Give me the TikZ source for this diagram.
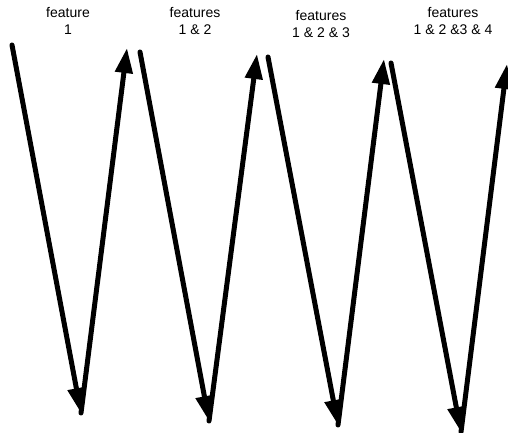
\documentclass[tikz,border=0pt]{standalone}
\usepackage{fontspec}
\setmainfont{Liberation Sans}
\usetikzlibrary{arrows.meta}

\begin{document}
\begin{tikzpicture}
      [x=1pt,y=-1pt,line cap=round,line join=round,
     %thick black strokes of the zigzag
     zig/.style={-{Triangle[length=25pt,width=17pt]},line width=5pt,color=black},
     %two-line captions above the peaks
     caption/.style={align=center,inner sep=0pt,font=\fontsize{14}{17}\selectfont}]

  \useasboundingbox (0,0) rectangle (508,432);

%start points of the downward strokes
  \coordinate (s1) at (12,45);
  \coordinate (s2) at (140,52);
  \coordinate (s3) at (268,57);
  \coordinate (s4) at (391,63);
%bottom turning points
  \coordinate (b1) at (81,413);
  \coordinate (b2) at (209,421);
  \coordinate (b3) at (338,425);
  \coordinate (b4) at (461,432);
%tips of the upward strokes
  \coordinate (u1) at (127,48);
  \coordinate (u2) at (257,54);
  \coordinate (u3) at (384,59);
  \coordinate (u4) at (507,64);

%captions
  \node[caption] (f1) at (68,21) {feature\\1};
  \node[caption] (f12) at (195,21) {features\\1 \& 2};
  \node[caption] (f123) at (321,24) {features\\1 \& 2 \& 3};
  \node[caption] (f1234) at (453,21) {features\\1 \& 2 \&3 \& 4};

%down and up again
  \draw[zig] (s1) -- (b1);
  \draw[zig] (b1) -- (u1);
  \draw[zig] (s2) -- (b2);
  \draw[zig] (b2) -- (u2);
  \draw[zig] (s3) -- (b3);
  \draw[zig] (b3) -- (u3);
  \draw[zig] (s4) -- (b4);
  \draw[zig] (b4) -- (u4);
\end{tikzpicture}
\end{document}
